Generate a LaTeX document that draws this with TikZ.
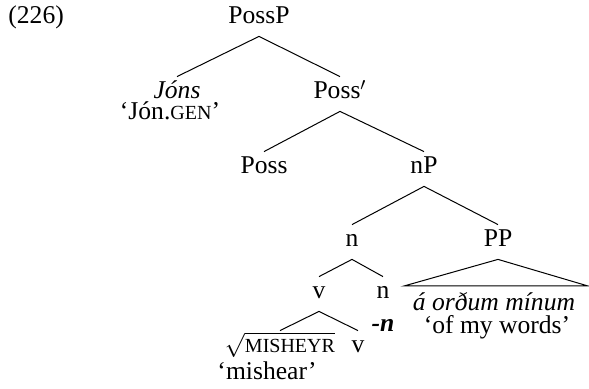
\documentclass[tikz,border=0pt]{standalone}
\usepackage{fontspec}
\setmainfont{Liberation Serif}
\newcommand{\smc}[1]{{\fontsize{10}{12}\selectfont #1}}

\begin{document}
\begin{tikzpicture}[x=0.5pt,y=-0.5pt,font=\fontsize{12.8}{15}\selectfont,
   lbl/.style={inner sep=0pt,text height=11pt,text depth=6pt},
   gls/.style={inner sep=0pt,anchor=base},
   br/.style={line width=0.5pt}]
\useasboundingbox (0,0) rectangle (589,389);
% example number
\node[gls,anchor=base west] (num) at (8,24) {(226)};
% tree labels, placed at their baselines
\node[lbl,anchor=base] (possp) at (259,24) {PossP};
\node[lbl,anchor=base] (jons) at (177,99) {\textit{Jóns}};
\node[gls] (jonsgl) at (170,120) {‘Jón.\smc{GEN}’};
\node[lbl,anchor=base] (possbar) at (340,99) {Poss$'$};
\node[lbl,anchor=base] (poss) at (264,174) {Poss};
\node[lbl,anchor=base] (np) at (424,174) {nP};
\node[lbl,anchor=base] (nn) at (352,247) {n};
\node[lbl,anchor=base] (pp) at (498,247) {PP};
\node[lbl,anchor=base] (vv) at (319,299) {v};
\node[lbl,anchor=base] (nhead) at (383,299) {n};
\node[gls] (suff) at (383,332) {\textbf{\textit{-n}}};
\node[lbl,anchor=base] (root) at (280,353) {$\sqrt{\mbox{\smc{MISHEYR}}}$};
\node[lbl,anchor=base] (vhead) at (358,353) {v};
\node[gls] (rootgl) at (267,380) {‘mishear’};
\node[gls] (ordum) at (494,311) {\textit{á orðum mínum}};
\node[gls] (ordumgl) at (497,334) {‘of my words’};
% branches
\foreach \a/\b in {possp/jons,possp/possbar,possbar/poss,possbar/np,np/nn,np/pp,
   nn/vv,nn/nhead,vv/root,vv/vhead}
  \draw[br] (\a.south) -- (\b.north);
% roof over the PP
\coordinate (roofl) at (404,286);
\coordinate (roofr) at (588,286);
\draw[br] (pp.south) -- (roofl) -- (roofr) -- cycle;
\end{tikzpicture}
\end{document}
